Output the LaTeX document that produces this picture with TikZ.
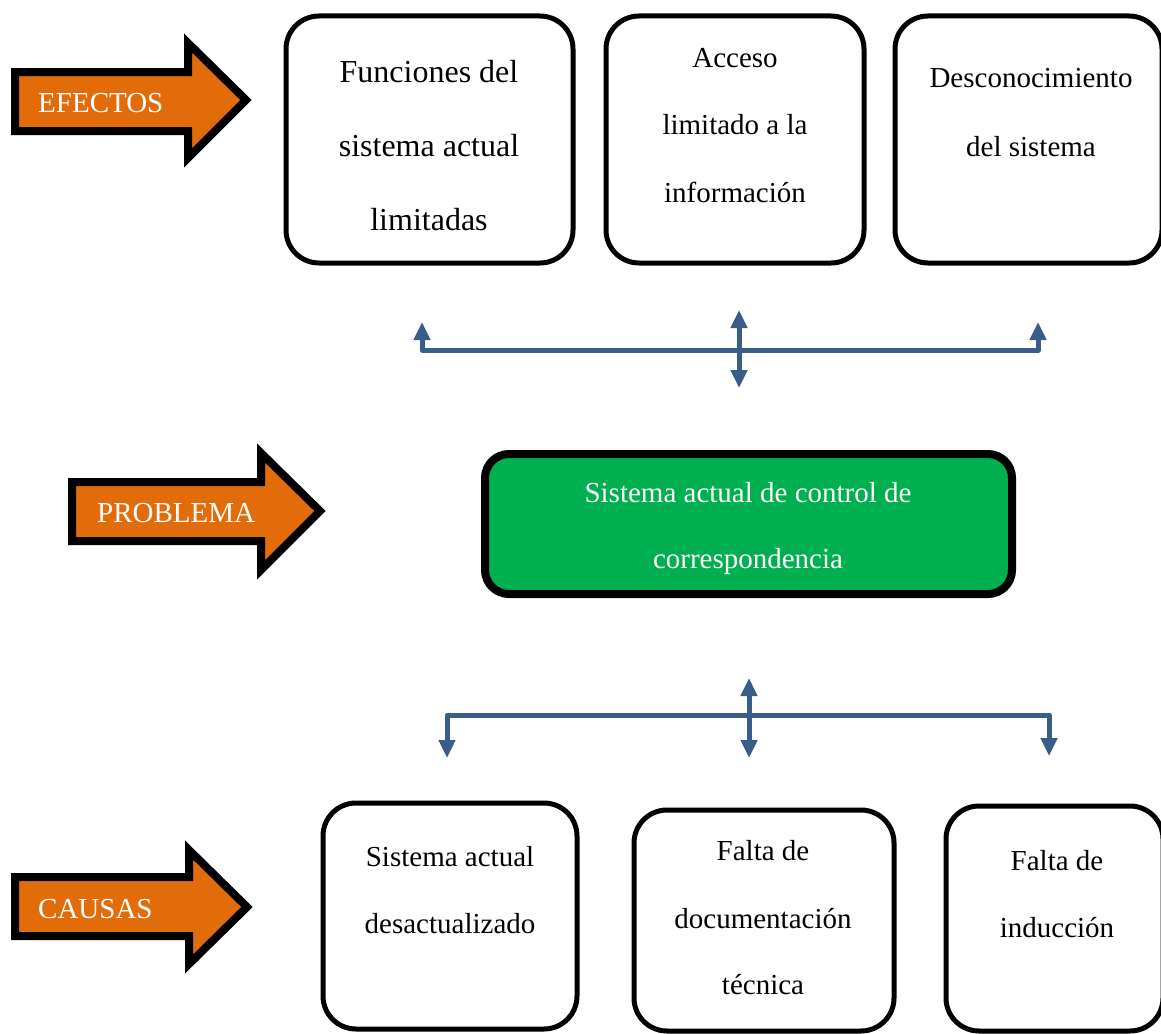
\documentclass[tikz,border=0pt]{standalone}
\usepackage{fontspec}
\setmainfont{Liberation Serif}
\usetikzlibrary{arrows.meta}
\definecolor{orangeA}{RGB}{227,108,10}
\definecolor{greenA}{RGB}{0,176,80}
\definecolor{busblue}{RGB}{56,93,138}
\begin{document}
\begin{tikzpicture}[x=1pt,y=-1pt,
  bigarrow/.style={draw=black,fill=orangeA,line width=8pt,line join=miter},
  arrowtxt/.style={anchor=base west,inner sep=0pt,text=white,font=\fontsize{29}{35}\selectfont},
  wbox/.style={draw=black,fill=white,line width=5pt,rounded corners=33pt,inner sep=0pt},
  gbox/.style={draw=black,fill=greenA,line width=8pt,rounded corners=24pt,inner sep=0pt},
  txt/.style={anchor=base,inner sep=0pt,font=\fontsize{29}{35}\selectfont},
  bigtxt/.style={anchor=base,inner sep=0pt,font=\fontsize{32}{38}\selectfont},
  bus/.style={draw=busblue,line width=5pt,line join=round},
  tip/.tip={Triangle[width=16pt,length=18pt]}
]
\useasboundingbox (0,0) rectangle (1161,1033);
\fill[white] (0,0) rectangle (1161,1033);

% ---------- side arrows ----------
\draw[bigarrow] (15,72) -- (188,72) -- (188,43) -- (246,100) -- (188,158) -- (188,131) -- (15,131) -- cycle;
\node[arrowtxt] (lefectos) at (38,112) {EFECTOS};

\draw[bigarrow] (72,482) -- (261,482) -- (261,453) -- (320,511) -- (261,570) -- (261,541) -- (72,541) -- cycle;
\node[arrowtxt] (lproblema) at (97,522) {PROBLEMA};

\draw[bigarrow] (15,877) -- (189,877) -- (189,850) -- (247,907) -- (189,964) -- (189,936) -- (15,936) -- cycle;
\node[arrowtxt] (lcausas) at (38,918) {CAUSAS};

% ---------- effect boxes ----------
\node[wbox,minimum width=287pt,minimum height=247pt] (e1) at (429.5,139.5) {};
\node[bigtxt] (e1a) at (429,82) {Funciones del};
\node[bigtxt] (e1b) at (429,156) {sistema actual};
\node[bigtxt] (e1c) at (429,230) {limitadas};

\node[wbox,minimum width=258pt,minimum height=247pt] (e2) at (735,139.5) {};
\node[txt] (e2a) at (735,67) {Acceso};
\node[txt] (e2b) at (735,134) {limitado a la};
\node[txt] (e2c) at (735,202) {información};

\node[wbox,minimum width=267pt,minimum height=247pt] (e3) at (1028.5,139.5) {};
\node[txt] (e3a) at (1031,88) {Desconocimiento};
\node[txt] (e3b) at (1031,156) {del sistema};

% ---------- problem box ----------
\node[gbox,minimum width=527pt,minimum height=140pt] (p) at (748.5,524) {};
\node[txt,text=white] (pa) at (748,502) {Sistema actual de control de};
\node[txt,text=white] (pb) at (748,568) {correspondencia};

% ---------- cause boxes ----------
\node[wbox,minimum width=254pt,minimum height=226pt] (c1) at (450,916) {};
\node[txt] (c1a) at (450,866) {Sistema actual};
\node[txt] (c1b) at (450,933) {desactualizado};

\node[wbox,minimum width=260pt,minimum height=221pt] (c2) at (764,920.5) {};
\node[txt] (c2a) at (763,860) {Falta de};
\node[txt] (c2b) at (763,928) {documentación};
\node[txt] (c2c) at (763,994) {técnica};

\node[wbox,minimum width=217pt,minimum height=225pt] (c3) at (1054.5,918.5) {};
\node[txt] (c3a) at (1057,870) {Falta de};
\node[txt] (c3b) at (1057,937) {inducción};

% ---------- top connector ----------
\coordinate (tL) at (422,322);
\coordinate (tLb) at (422,350);
\coordinate (tRb) at (1038,350);
\coordinate (tR) at (1038,322);
\coordinate (tCu) at (739,310);
\coordinate (tCd) at (739,388);
\draw[bus,{tip}-{tip}] (tL) -- (tLb) -- (tRb) -- (tR);
\draw[bus,{tip}-{tip}] (tCu) -- (tCd);

% ---------- bottom connector ----------
\coordinate (bL) at (447,758);
\coordinate (bLb) at (447,715);
\coordinate (bRb) at (1049,715);
\coordinate (bR) at (1049,756);
\coordinate (bCu) at (749,678);
\coordinate (bCd) at (749,758);
\draw[bus,{tip}-{tip}] (bL) -- (bLb) -- (bRb) -- (bR);
\draw[bus,{tip}-{tip}] (bCu) -- (bCd);
\end{tikzpicture}
\end{document}
